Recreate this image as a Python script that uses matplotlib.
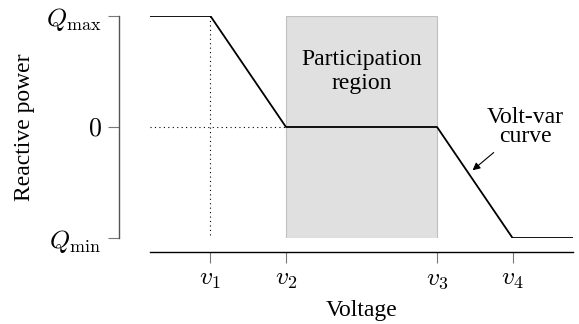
import matplotlib
matplotlib.use("Agg")
import matplotlib.pyplot as plt
from matplotlib.patches import Rectangle

plt.rcParams['font.family'] = ['Liberation Serif', 'DejaVu Serif']
plt.rcParams['mathtext.fontset'] = 'cm'

# volt-var breakpoints (v1..v4) and the curve through them
v_ticks = [1, 2, 4, 5]
v_labels = [r'$v_1$', r'$v_2$', r'$v_3$', r'$v_4$']
q_ticks = [-1, 0, 1]
q_labels = [r'$Q_{\min}$', r'$0$', r'$Q_{\max}$']

curve_v = [0.2, 1, 2, 4, 5, 5.8]
curve_q = [1, 1, 0, 0, -1, -1]

fig = plt.figure(figsize=(5.79, 3.24), dpi=100)
ax = fig.add_axes([150/579, 1 - 238/324, 423/579, 222/324])

ax.add_patch(Rectangle((v_ticks[1], -1), v_ticks[2] - v_ticks[1], 2,
                       facecolor='#e0e0e0', edgecolor='#c0c0c0', lw=0.8, zorder=1))

ax.plot([v_ticks[0], v_ticks[0]], [1, -0.97], ls=(0, (1, 3)), color='black', lw=0.8, zorder=2)
ax.plot([0.2, v_ticks[1]], [0, 0], ls=(0, (1, 3)), color='black', lw=0.8, zorder=2)

ax.plot(curve_v, curve_q, color='black', lw=1.3, zorder=3)

ax.text(3, 0.5, 'Participation\nregion', ha='center', va='center', fontsize=17, linespacing=1.2)
ax.text(5.17, 0.0, 'Volt-var\ncurve', ha='center', va='center', fontsize=17, linespacing=0.85)
ax.annotate('', xy=(4.47, -0.39), xytext=(4.75, -0.23),
            arrowprops=dict(arrowstyle='-|>', color='black', lw=0.8, shrinkA=0, shrinkB=0,
                            mutation_scale=11))

ax.set_xlim(0.2, 5.8)
ax.set_ylim(-1, 1)
ax.set_xticks(v_ticks)
ax.set_xticklabels(v_labels)
ax.set_yticks(q_ticks)
ax.set_yticklabels(q_labels)

for s in ['top', 'right']:
    ax.spines[s].set_visible(False)
ax.spines['left'].set_position(('outward', 22))
ax.spines['bottom'].set_position(('outward', 10))
ax.spines['left'].set_color('#555555')
ax.spines['bottom'].set_color('black')
ax.spines['left'].set_linewidth(1.0)
ax.spines['bottom'].set_linewidth(1.0)
ax.tick_params(axis='y', length=8, color='#777777', pad=5, labelsize=18.5)
ax.tick_params(axis='x', length=8, color='#777777', pad=4, labelsize=18.5)

ax.set_xlabel('Voltage', fontsize=17, labelpad=7)
ax.set_ylabel('Reactive power', fontsize=17, labelpad=8)

fig.savefig('out.png', dpi=100)
